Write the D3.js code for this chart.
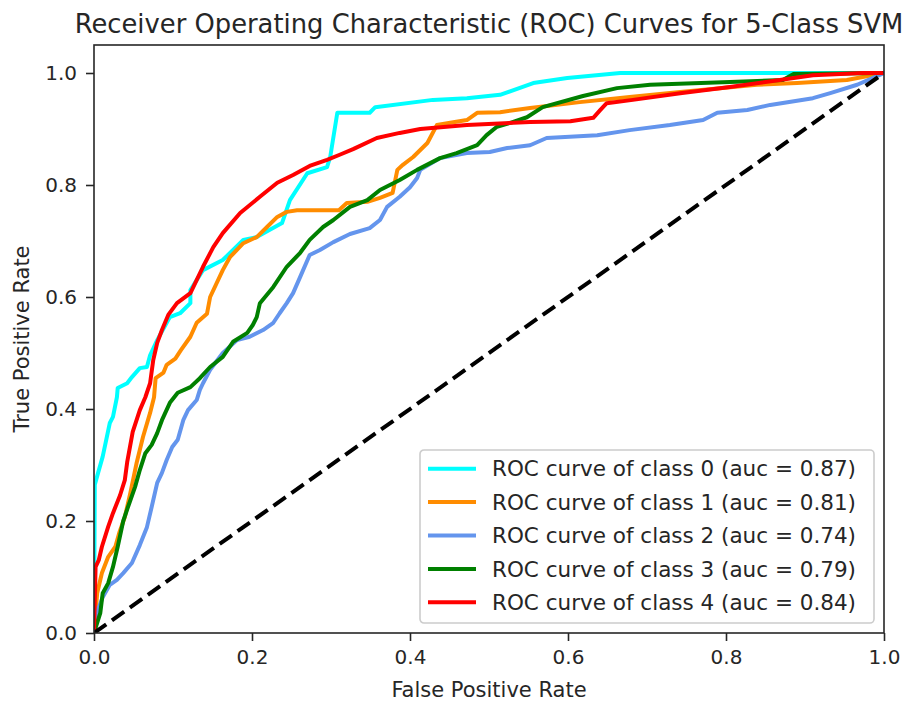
<!DOCTYPE html>
<html>
<head>
<meta charset="utf-8">
<script src="https://cdn.jsdelivr.net/npm/d3@7"></script>
<style>
  body { margin: 0; background: #fff; }
  text { font-family: 'DejaVu Sans', sans-serif; fill: #262626; }
</style>
</head>
<body>
<div id="chart"></div>
<script>
// ROC points [fpr, tpr]
const class0 = [[0,0],[0.001,0.265],[0.005,0.285],[0.011,0.315],[0.020,0.375],[0.024,0.386],[0.029,0.421],[0.030,0.4375],[0.042,0.446],[0.048,0.457],[0.058,0.473],[0.067,0.475],[0.071,0.496],[0.080,0.523],[0.096,0.564],[0.109,0.571],[0.122,0.589],[0.122,0.6125],[0.138,0.648],[0.163,0.666],[0.189,0.702],[0.206,0.707],[0.238,0.732],[0.248,0.773],[0.270,0.821],[0.295,0.832],[0.299,0.850],[0.308,0.929],[0.349,0.929],[0.356,0.939],[0.429,0.952],[0.472,0.955],[0.514,0.961],[0.556,0.982],[0.599,0.991],[0.666,1.0],[1,1]]
const class1 = [[0,0],[0.004,0.071],[0.010,0.107],[0.018,0.136],[0.027,0.154],[0.032,0.179],[0.039,0.207],[0.046,0.25],[0.054,0.304],[0.062,0.35],[0.071,0.393],[0.076,0.421],[0.078,0.455],[0.088,0.465],[0.092,0.479],[0.103,0.49],[0.110,0.505],[0.122,0.529],[0.130,0.554],[0.143,0.57],[0.147,0.6],[0.163,0.648],[0.172,0.671],[0.189,0.696],[0.206,0.707],[0.219,0.725],[0.232,0.743],[0.244,0.752],[0.257,0.755],[0.310,0.755],[0.320,0.768],[0.346,0.770],[0.362,0.777],[0.378,0.786],[0.384,0.827],[0.391,0.836],[0.404,0.85],[0.422,0.875],[0.434,0.907],[0.451,0.911],[0.472,0.916],[0.485,0.929],[0.514,0.930],[0.552,0.9375],[0.615,0.948],[0.678,0.957],[0.742,0.966],[0.839,0.979],[0.890,0.982],[0.953,0.9875],[1,1]]
const class2 = [[0,0],[0.003,0.023],[0.005,0.041],[0.011,0.064],[0.020,0.086],[0.029,0.095],[0.037,0.107],[0.048,0.125],[0.058,0.157],[0.067,0.189],[0.073,0.225],[0.080,0.268],[0.086,0.286],[0.092,0.309],[0.099,0.332],[0.106,0.345],[0.113,0.380],[0.119,0.398],[0.130,0.416],[0.134,0.434],[0.138,0.446],[0.147,0.470],[0.163,0.500],[0.181,0.523],[0.197,0.529],[0.214,0.541],[0.227,0.554],[0.235,0.571],[0.244,0.589],[0.252,0.607],[0.261,0.636],[0.273,0.675],[0.286,0.684],[0.303,0.698],[0.324,0.7125],[0.349,0.723],[0.362,0.7375],[0.371,0.761],[0.387,0.779],[0.400,0.796],[0.409,0.8125],[0.413,0.827],[0.438,0.848],[0.472,0.857],[0.501,0.859],[0.523,0.866],[0.552,0.871],[0.573,0.884],[0.637,0.889],[0.678,0.898],[0.729,0.907],[0.771,0.916],[0.789,0.929],[0.827,0.934],[0.856,0.943],[0.910,0.955],[0.932,0.964],[0.966,0.979],[1,1]]
const class3 = [[0,0],[0.008,0.036],[0.011,0.071],[0.018,0.089],[0.024,0.118],[0.030,0.154],[0.037,0.2],[0.043,0.225],[0.052,0.261],[0.058,0.291],[0.065,0.321],[0.073,0.336],[0.080,0.357],[0.086,0.380],[0.096,0.411],[0.106,0.429],[0.122,0.439],[0.134,0.455],[0.147,0.475],[0.163,0.493],[0.176,0.520],[0.194,0.536],[0.201,0.55],[0.206,0.564],[0.210,0.589],[0.227,0.618],[0.244,0.654],[0.261,0.679],[0.273,0.702],[0.290,0.725],[0.303,0.7375],[0.324,0.761],[0.346,0.773],[0.362,0.791],[0.387,0.809],[0.409,0.827],[0.438,0.848],[0.459,0.857],[0.485,0.871],[0.497,0.889],[0.510,0.904],[0.527,0.911],[0.548,0.921],[0.568,0.939],[0.619,0.959],[0.662,0.973],[0.704,0.979],[0.805,0.984],[0.872,0.9875],[0.885,0.998],[1,1]]
const class4 = [[0,0],[0.002,0.118],[0.006,0.13],[0.010,0.154],[0.018,0.19],[0.024,0.214],[0.033,0.246],[0.039,0.273],[0.042,0.305],[0.049,0.359],[0.058,0.398],[0.065,0.421],[0.071,0.446],[0.075,0.4875],[0.080,0.518],[0.086,0.541],[0.094,0.568],[0.105,0.589],[0.122,0.607],[0.138,0.654],[0.151,0.689],[0.163,0.714],[0.185,0.75],[0.210,0.779],[0.232,0.804],[0.252,0.818],[0.273,0.834],[0.295,0.845],[0.311,0.854],[0.328,0.864],[0.358,0.884],[0.387,0.893],[0.413,0.9],[0.472,0.907],[0.552,0.9125],[0.603,0.914],[0.632,0.920],[0.641,0.934],[0.649,0.946],[0.682,0.952],[0.742,0.964],[0.805,0.975],[0.868,0.9875],[0.910,0.996],[0.973,1.0],[1,1]]

const curves = [class0, class1, class2, class3, class4]
const aucs = ['0.87', '0.81', '0.74', '0.79', '0.84']
const colors = ['aqua', 'darkorange', 'cornflowerblue', 'green', 'red']
const ticks = [0, 0.2, 0.4, 0.6, 0.8, 1.0]

const margin = { top: 45, left: 94, right: 33, bottom: 69 }
const width = 917 - margin.left - margin.right
const height = 702 - margin.top - margin.bottom

const svg = d3
  .select('#chart')
  .append('svg')
  .attr('width', 917)
  .attr('height', 702)

const g = svg
  .append('g')
  .attr('transform', 'translate(' + margin.left + ',' + margin.top + ')')

const xScale = d3.scaleLinear().domain([0, 1]).range([0, width])
const yScale = d3.scaleLinear().domain([0, 1.05]).range([height, 0])

svg
  .append('defs')
  .append('clipPath')
  .attr('id', 'clip')
  .append('rect')
  .attr('width', width)
  .attr('height', height)

const line = d3
  .line()
  .x(d => xScale(d[0]))
  .y(d => yScale(d[1]))

const plot = g.append('g').attr('clip-path', 'url(#clip)')

curves.forEach(function(c, i) {
  plot
    .append('path')
    .datum(c)
    .attr('d', line)
    .attr('fill', 'none')
    .attr('stroke', colors[i])
    .attr('stroke-width', 4)
    .attr('stroke-linejoin', 'round')
})

// chance line
plot
  .append('path')
  .datum([[0, 0], [1, 1]])
  .attr('d', line)
  .attr('fill', 'none')
  .attr('stroke', 'black')
  .attr('stroke-width', 4)
  .attr('stroke-dasharray', '15,7')

// axes
g.append('g')
  .attr('transform', 'translate(0,' + height + ')')
  .call(d3.axisBottom(xScale).tickValues(ticks).tickFormat(d3.format('.1f')).tickSizeOuter(0).tickSize(8).tickPadding(9))

g.append('g')
  .call(d3.axisLeft(yScale).tickValues(ticks).tickFormat(d3.format('.1f')).tickSizeOuter(0).tickSize(8).tickPadding(9))

g.selectAll('.tick text').attr('font-size', 20).attr('font-family', 'DejaVu Sans').attr('fill', '#262626')
g.selectAll('.tick line').attr('stroke', '#262626').attr('stroke-width', 1.6)
g.selectAll('.domain').remove()

g.append('rect')
  .attr('width', width)
  .attr('height', height)
  .attr('fill', 'none')
  .attr('stroke', '#262626')
  .attr('stroke-width', 1.6)

// labels
svg
  .append('text')
  .text('Receiver Operating Characteristic (ROC) Curves for 5-Class SVM')
  .attr('x', margin.left + width / 2)
  .attr('y', 33)
  .attr('text-anchor', 'middle')
  .attr('font-size', 25.8)

svg
  .append('text')
  .text('False Positive Rate')
  .attr('x', margin.left + width / 2)
  .attr('y', 697)
  .attr('text-anchor', 'middle')
  .attr('font-size', 21)

svg
  .append('text')
  .text('True Positive Rate')
  .attr('transform', 'translate(29,' + (margin.top + height / 2) + ') rotate(-90)')
  .attr('text-anchor', 'middle')
  .attr('font-size', 21)

// legend
const legend = svg.append('g').attr('transform', 'translate(420,450)')

legend
  .append('rect')
  .attr('width', 454)
  .attr('height', 173)
  .attr('rx', 4)
  .attr('fill', 'white')
  .attr('fill-opacity', 0.8)
  .attr('stroke', '#cccccc')
  .attr('stroke-width', 1.6)

const legendScale = d3
  .scaleBand()
  .domain(d3.range(curves.length))
  .range([2, 169])

legend
  .selectAll('g')
  .data(d3.range(curves.length))
  .enter()
  .append('g')
  .attr('transform', d => `translate(0,${legendScale(d) + legendScale.bandwidth() / 2})`)
  .each(function(d) {
    const row = d3.select(this)
    row
      .append('line')
      .attr('x1', 8)
      .attr('x2', 56)
      .attr('stroke', colors[d])
      .attr('stroke-width', 4)
    row
      .append('text')
      .text(`ROC curve of class ${d} (auc = ${aucs[d]})`)
      .attr('x', 72)
      .attr('dy', '0.36em')
      .attr('font-size', 21.5)
  })
</script>
</body>
</html>
